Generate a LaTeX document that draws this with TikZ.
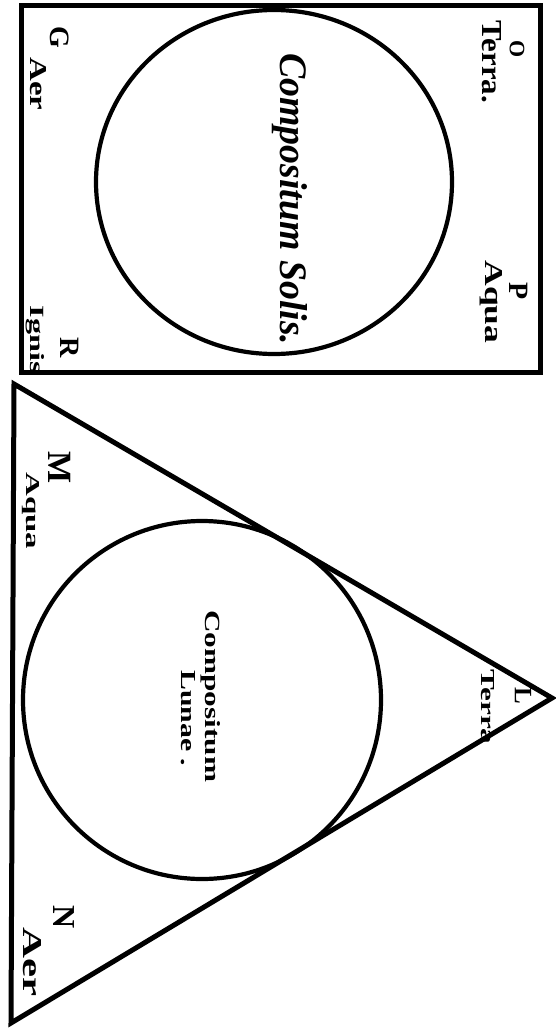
\documentclass[tikz,border=0pt]{standalone}
\usepackage{fontspec}
\setmainfont{Liberation Serif}
\begin{document}
\begin{tikzpicture}[x=1pt,y=-1pt,
  thickline/.style={line width=5pt, line join=miter},
  roundline/.style={line width=4.2pt},
  lbl/.style={rotate=-90, inner sep=0pt, font=\bfseries},
  letter/.style={rotate=-90, inner sep=0pt, font=\bfseries\fontsize{#1}{#1}\selectfont},
  bigtext/.style={rotate=-90, inner sep=0pt, anchor=base west, font=\bfseries\itshape}]
\useasboundingbox (0,0) rectangle (555,1030);
% --- Compositum Solis ---
\draw[thickline] (21,6) rectangle (540,372);
\draw[roundline] (274,182) ellipse [x radius=178, y radius=172];
\node[bigtext] (solis) at (280,53) {\resizebox{292pt}{27pt}{Compositum Solis.}};
\node[letter=22] (O) at (517,49) {O};
\node[lbl] (terraR) at (492,62) {\resizebox{82pt}{19pt}{Terra.}};
\node[letter=28] (P) at (519,291) {P};
\node[lbl] (aquaR) at (491,302) {\resizebox{83pt}{17pt}{Aqua}};
\node[letter=28] (G) at (60,37) {G};
\node[lbl] (aerR) at (38,84) {\resizebox{53pt}{16pt}{Aer}};
\node[letter=28] (R) at (70,348) {R};
\node[lbl] (ignis) at (35,340) {\resizebox{68pt}{14pt}{Ignis}};
% --- Compositum Lunae ---
\coordinate (A) at (14,384);
\coordinate (B) at (552,698);
\coordinate (C) at (11,1023);
\draw[line width=5pt, line join=miter] (A) -- (B) -- (C) -- cycle;
\draw[roundline] (202,700) circle [radius=179];
\node[bigtext, font=\bfseries] (comp) at (205,610) {\resizebox{172pt}{15pt}{Compositum}};
\node[bigtext, font=\bfseries] (lunae) at (181,670) {\resizebox{96pt}{14pt}{Lunae .}};
\node[letter=25] (L) at (523,696) {L};
\node[lbl] (terraT) at (488,707) {\resizebox{75pt}{13pt}{Terra}};
\node[letter=34] (M) at (60,468) {M};
\node[lbl] (aquaT) at (31,511) {\resizebox{77pt}{13pt}{Aqua}};
\node[letter=32] (N) at (64,917) {N};
\node[lbl] (aerT) at (32,962) {\resizebox{69pt}{18pt}{Aer}};
\end{tikzpicture}
\end{document}
